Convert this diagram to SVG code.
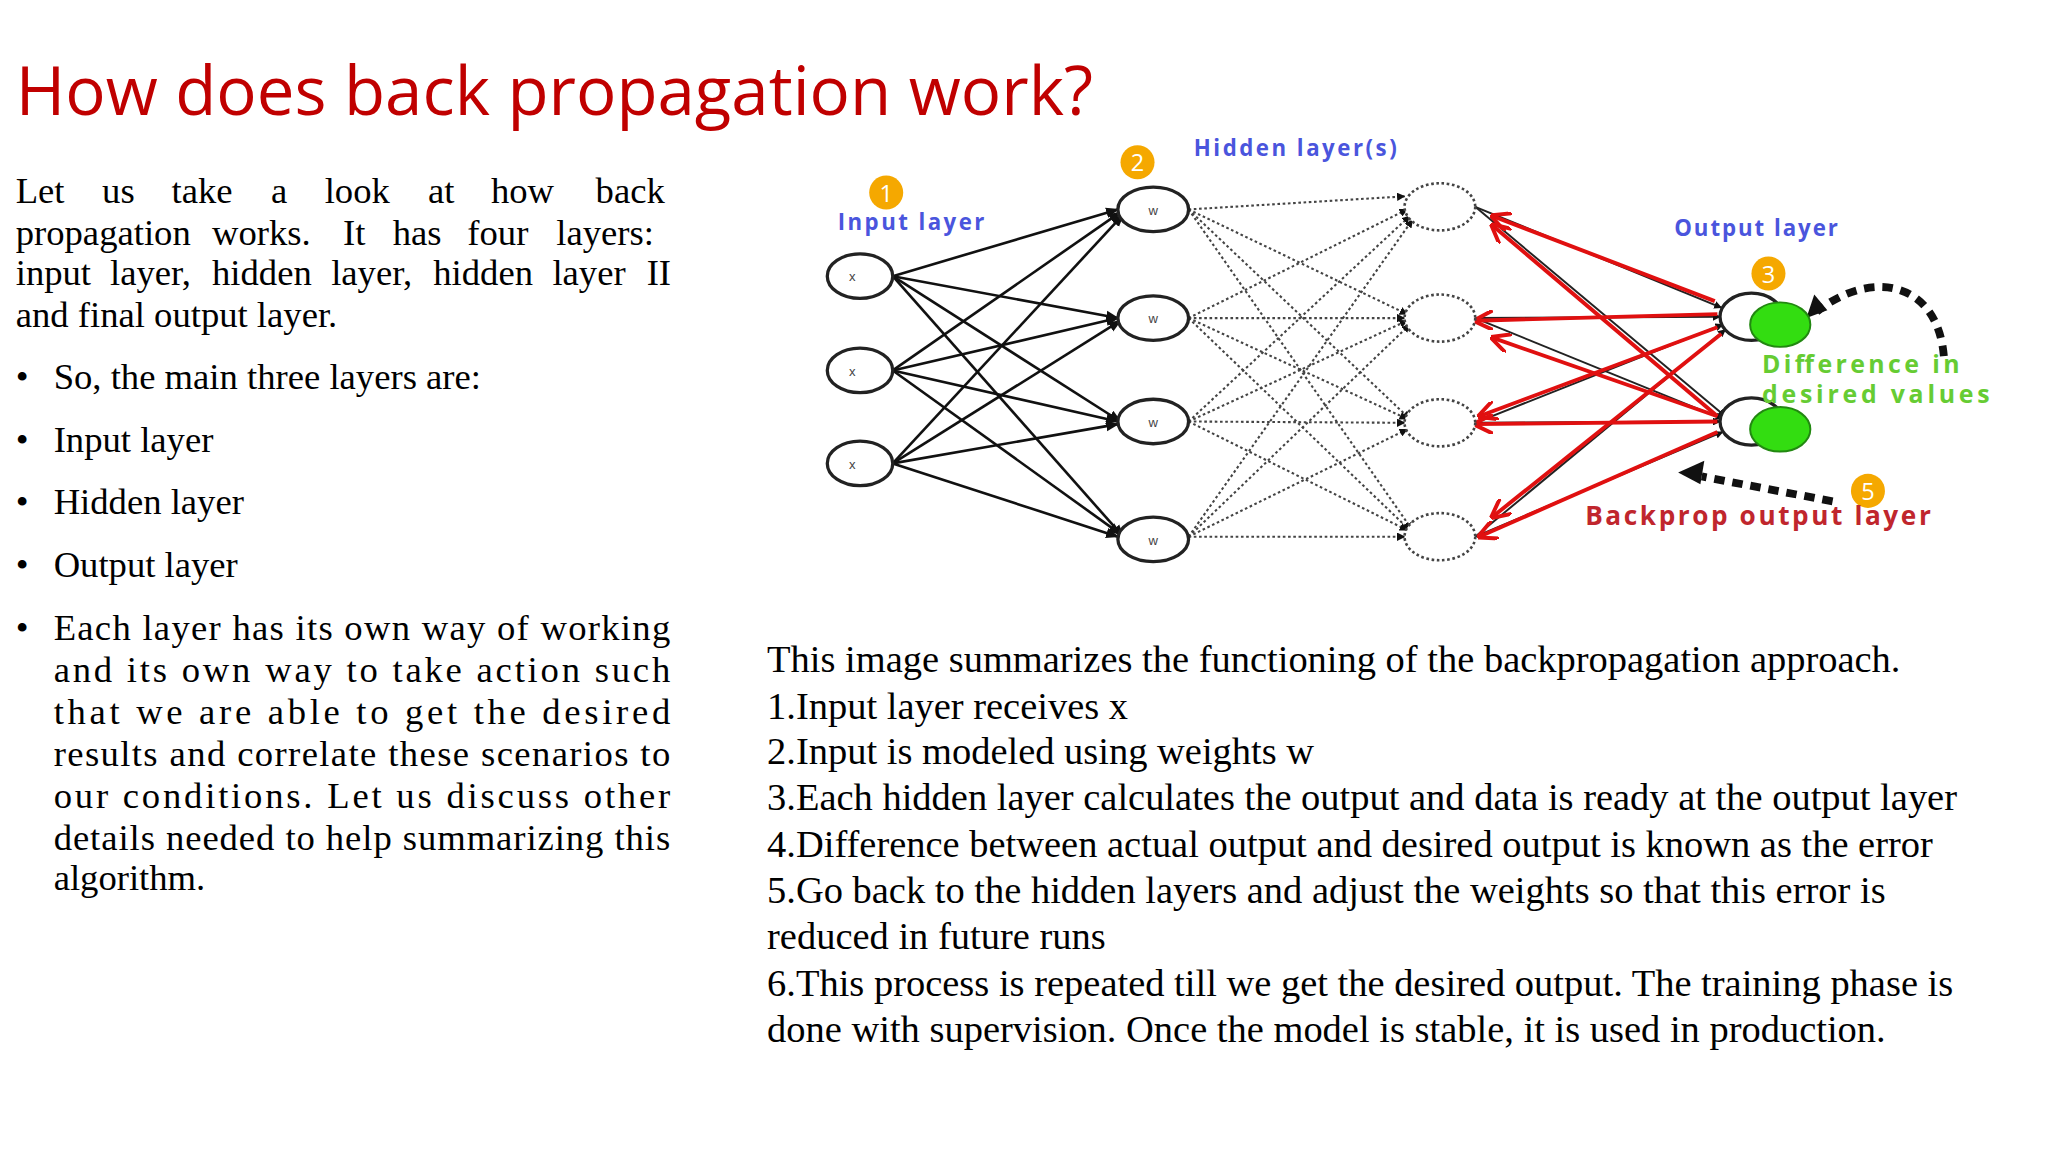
<svg xmlns="http://www.w3.org/2000/svg" width="2048" height="1152" viewBox="0 0 2048 1152">
<style>
.t{font-family:"Liberation Serif",serif;font-size:28px;fill:#000}
.rt{font-size:29.4px}
.lb{font-family:"Open Sans","DejaVu Sans",sans-serif;font-weight:bold}
.n{fill:#fff;stroke:#222;stroke-width:2.5}
.d{fill:#fff;stroke:#444;stroke-width:2;stroke-dasharray:2 2}
.e{stroke:#111;stroke-width:2;fill:none}
.dt{stroke:#444;stroke-width:1.6;stroke-dasharray:2 2;fill:none}
.r{stroke:#e01010;stroke-width:3;fill:none}
.k{stroke:#222;stroke-width:1.5;fill:none}
.b{fill:#f5a800}
.bt{font-family:"Open Sans",sans-serif;font-size:18px;fill:#fff;text-anchor:middle}
.s{font-family:"Liberation Sans",sans-serif;font-size:10px;fill:#444;text-anchor:middle}
</style>
<defs>
<marker id="a" viewBox="0 0 10 10" refX="9" refY="5" markerWidth="5" markerHeight="5" orient="auto"><path d="M0,1L10,5L0,9z" fill="#111"/></marker>
<marker id="ar" viewBox="0 0 10 10" refX="9" refY="5" markerWidth="5" markerHeight="5" orient="auto"><path d="M0,0L10,5L0,10" fill="none" stroke="#e01010" stroke-width="2"/></marker>
<marker id="ak" viewBox="0 0 10 10" refX="9" refY="5" markerWidth="4" markerHeight="4" orient="auto"><path d="M0,0L10,5L0,10z" fill="#111"/></marker>
</defs>
<rect width="2048" height="1152" fill="#fff"/>
<g transform="scale(1.309)">
<text x="12" y="88" font-family="Open Sans,Liberation Sans,sans-serif" font-size="52" fill="#c00000" textLength="823" lengthAdjust="spacingAndGlyphs">How does back propagation work?</text>
<g id="left-text" class="t">
<text y="155"><tspan x="12">Let</tspan><tspan x="78">us</tspan><tspan x="131">take</tspan><tspan x="207">a</tspan><tspan x="248">look</tspan><tspan x="327">at</tspan><tspan x="375">how</tspan><tspan x="455">back</tspan></text>
<text y="187"><tspan x="12">propagation</tspan><tspan x="162">works.</tspan><tspan x="262">It</tspan><tspan x="300">has</tspan><tspan x="357">four</tspan><tspan x="425">layers:</tspan></text>
<text y="218"><tspan x="12">input</tspan><tspan x="84">layer,</tspan><tspan x="162">hidden</tspan><tspan x="253">layer,</tspan><tspan x="331">hidden</tspan><tspan x="422">layer</tspan><tspan x="494">II</tspan></text>
<text x="12" y="250">and final output layer.</text>
<text x="12" y="297">•</text><text x="41" y="297">So, the main three layers are:</text>
<text x="12" y="345">•</text><text x="41" y="345">Input layer</text>
<text x="12" y="393">•</text><text x="41" y="393">Hidden layer</text>
<text x="12" y="441">•</text><text x="41" y="441">Output layer</text>
<text x="12" y="489">•</text><text x="41" y="489" textLength="471" lengthAdjust="spacing">Each layer has its own way of working</text>
<text x="41" y="521" textLength="471" lengthAdjust="spacing">and its own way to take action such</text>
<text x="41" y="553" textLength="471" lengthAdjust="spacing">that we are able to get the desired</text>
<text x="41" y="585" textLength="471" lengthAdjust="spacing">results and correlate these scenarios to</text>
<text x="41" y="617" textLength="471" lengthAdjust="spacing">our conditions. Let us discuss other</text>
<text x="41" y="649" textLength="471" lengthAdjust="spacing">details needed to help summarizing this</text>
<text x="41" y="680">algorithm.</text>
</g>
<g id="right-text" class="t rt">
<text x="586" y="513">This image summarizes the functioning of the backpropagation approach.</text>
<text x="586" y="549">1.Input layer receives x</text>
<text x="586" y="584">2.Input is modeled using weights w</text>
<text x="586" y="619">3.Each hidden layer calculates the output and data is ready at the output layer</text>
<text x="586" y="655">4.Difference between actual output and desired output is known as the error</text>
<text x="586" y="690">5.Go back to the hidden layers and adjust the weights so that this error is</text>
<text x="586" y="725">reduced in future runs</text>
<text x="586" y="761">6.This process is repeated till we get the desired output. The training phase is</text>
<text x="586" y="796">done with supervision.  Once the model is stable, it is used in production.</text>
</g>
<g id="connectors">
<g class="e" marker-end="url(#a)">
<line x1="682" y1="211" x2="854" y2="160"/><line x1="682" y1="211" x2="854" y2="243"/><line x1="682" y1="211" x2="856" y2="322"/><line x1="682" y1="211" x2="858" y2="410"/>
<line x1="682" y1="283" x2="856" y2="162"/><line x1="682" y1="283" x2="854" y2="243"/><line x1="682" y1="283" x2="854" y2="322"/><line x1="682" y1="283" x2="856" y2="408"/>
<line x1="682" y1="354" x2="858" y2="164"/><line x1="682" y1="354" x2="856" y2="245"/><line x1="682" y1="354" x2="854" y2="324"/><line x1="682" y1="354" x2="854" y2="410"/>
</g>
<g class="dt" marker-end="url(#ak)">
<line x1="908" y1="160" x2="1073" y2="150"/><line x1="908" y1="160" x2="1075" y2="240"/><line x1="908" y1="160" x2="1077" y2="320"/><line x1="908" y1="160" x2="1079" y2="405"/>
<line x1="908" y1="243" x2="1075" y2="160"/><line x1="908" y1="243" x2="1073" y2="243"/><line x1="908" y1="243" x2="1075" y2="320"/><line x1="908" y1="243" x2="1077" y2="405"/>
<line x1="908" y1="322" x2="1077" y2="165"/><line x1="908" y1="322" x2="1075" y2="245"/><line x1="908" y1="322" x2="1073" y2="323"/><line x1="908" y1="322" x2="1075" y2="405"/>
<line x1="908" y1="410" x2="1079" y2="168"/><line x1="908" y1="410" x2="1077" y2="248"/><line x1="908" y1="410" x2="1075" y2="328"/><line x1="908" y1="410" x2="1073" y2="410"/>
</g>
<g class="k" marker-end="url(#ak)">
<line x1="1127" y1="158" x2="1315" y2="235"/><line x1="1127" y1="158" x2="1318" y2="318"/>
<line x1="1127" y1="243" x2="1314" y2="242"/><line x1="1127" y1="243" x2="1316" y2="320"/>
<line x1="1127" y1="323" x2="1316" y2="248"/><line x1="1127" y1="323" x2="1314" y2="322"/>
<line x1="1127" y1="410" x2="1318" y2="252"/><line x1="1127" y1="410" x2="1316" y2="330"/>
</g>
<g class="r" marker-end="url(#ar)">
<line x1="1310" y1="230" x2="1140" y2="165"/><line x1="1312" y1="318" x2="1140" y2="172"/>
<line x1="1312" y1="240" x2="1127" y2="245"/><line x1="1312" y1="318" x2="1140" y2="258"/>
<line x1="1312" y1="250" x2="1130" y2="318"/><line x1="1312" y1="322" x2="1127" y2="324"/>
<line x1="1315" y1="255" x2="1140" y2="395"/><line x1="1312" y1="330" x2="1130" y2="410"/>
</g>
<path d="M1485,272 C1480,215 1430,205 1388,238" stroke="#111" stroke-width="6" stroke-dasharray="8 6" fill="none"/>
<path d="M1380,243 l6,-18 l10,12z" fill="#111"/>
<line x1="1400" y1="383" x2="1300" y2="364" stroke="#111" stroke-width="6" stroke-dasharray="8 6"/>
<path d="M1282,361 l20,-9 l-3,18z" fill="#111"/>
</g>
<g id="input-nodes">
<ellipse class="n" cx="657" cy="211" rx="25" ry="17"/><text class="s" x="651" y="215">x</text>
<ellipse class="n" cx="657" cy="283" rx="25" ry="17"/><text class="s" x="651" y="287">x</text>
<ellipse class="n" cx="657" cy="354" rx="25" ry="17"/><text class="s" x="651" y="358">x</text>
</g>
<g id="w-nodes">
<ellipse class="n" cx="881" cy="160" rx="27" ry="17"/><text class="s" x="881" y="164">w</text>
<ellipse class="n" cx="881" cy="243" rx="27" ry="17"/><text class="s" x="881" y="247">w</text>
<ellipse class="n" cx="881" cy="322" rx="27" ry="17"/><text class="s" x="881" y="326">w</text>
<ellipse class="n" cx="881" cy="412" rx="27" ry="17"/><text class="s" x="881" y="416">w</text>
</g>
<g id="hidden-nodes">
<ellipse class="d" cx="1100" cy="158" rx="27" ry="18"/><ellipse class="d" cx="1100" cy="243" rx="27" ry="18"/>
<ellipse class="d" cx="1100" cy="323" rx="27" ry="18"/><ellipse class="d" cx="1100" cy="410" rx="27" ry="18"/>
</g>
<g id="output-nodes">
<ellipse class="n" cx="1338" cy="242" rx="24" ry="18"/><ellipse cx="1360" cy="248" rx="23" ry="17" fill="#33dd11" stroke="#228811" stroke-width="1.5"/>
<ellipse class="n" cx="1338" cy="322" rx="24" ry="18"/><ellipse cx="1360" cy="328" rx="23" ry="17" fill="#33dd11" stroke="#228811" stroke-width="1.5"/>
</g>
<g id="badges">
<circle class="b" cx="677" cy="147" r="13"/><text class="bt" x="677" y="154">1</text>
<circle class="b" cx="869" cy="124" r="13"/><text class="bt" x="869" y="131">2</text>
<circle class="b" cx="1351" cy="209" r="13"/><text class="bt" x="1351" y="216">3</text>
<circle class="b" cx="1427" cy="375" r="13"/><text class="bt" x="1427" y="382">5</text>
</g>
<g id="labels" class="lb">
<text x="640" y="176" font-size="17" fill="#4a55dd" textLength="112">Input layer</text>
<text x="912" y="119" font-size="17" fill="#4a55dd" textLength="155">Hidden layer(s)</text>
<text x="1279" y="180" font-size="17" fill="#4a55dd" textLength="125">Output layer</text>
<text x="1346" y="285" font-size="19" fill="#66cc33" textLength="151">Difference in</text>
<text x="1346" y="308" font-size="19" fill="#66cc33" textLength="174">desired values</text>
<text x="1211" y="401" font-size="20" fill="#c0262d" textLength="264">Backprop output layer</text>
</g>
</g>
</svg>
